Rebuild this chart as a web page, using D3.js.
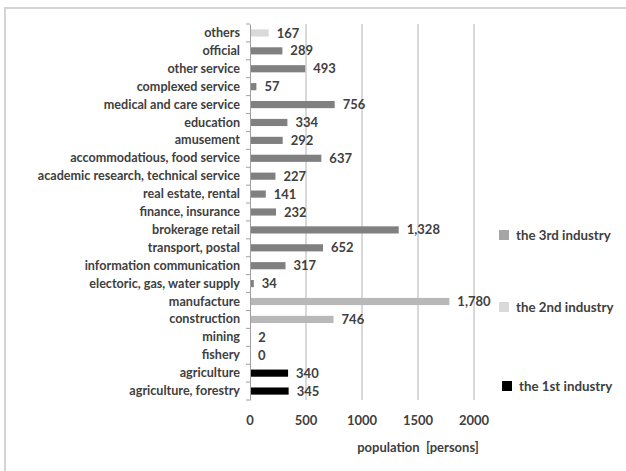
<!DOCTYPE html>
<html><head><meta charset="utf-8">
<script src="https://cdn.jsdelivr.net/npm/d3@7"></script>
<style>body{margin:0;background:#fff}svg{display:block}</style>
</head><body>
<script>
const categories = ["others","official","other service","complexed service","medical and care service","education","amusement","accommodatious, food service","academic research, technical service","real estate, rental","finance, insurance","brokerage retail","transport, postal","information communication","electoric, gas, water supply","manufacture","construction","mining","fishery","agriculture","agriculture, forestry"];
const values = [167,289,493,57,756,334,292,637,227,141,232,1328,652,317,34,1780,746,2,0,340,345];
const labels = ["167","289","493","57","756","334","292","637","227","141","232","1,328","652","317","34","1,780","746","2","0","340","345"];
const groups = ["other","3rd","3rd","3rd","3rd","3rd","3rd","3rd","3rd","3rd","3rd","3rd","3rd","3rd","3rd","2nd","2nd","2nd","1st","1st","1st"];
const xTicks = [0,500,1000,1500,2000];
const legendItems = ["the 3rd industry","the 2nd industry","the 1st industry"];
const axisTitle = "population  [persons]";

const W=626,H=471;
const svg=d3.select("body").append("svg").attr("width",W).attr("height",H);
svg.append("rect").attr("x",5).attr("y",8).attr("width",640).attr("height",480).attr("fill","none").attr("stroke","#d4d4d4").attr("stroke-width",2);

const colors={"3rd":"#808080","2nd":"#b8b8b8","1st":"#000000","other":"#d9d9d9"};
const legendColors={"the 3rd industry":"#a6a6a6","the 2nd industry":"#d9d9d9","the 1st industry":"#000000"};
const font="'Lato',sans-serif";

const x=d3.scaleLinear().domain([0,2000]).range([250,474]);
const y=d3.scaleBand().domain(categories).range([24,400]).paddingInner(0.6).paddingOuter(0.3);

// grid
svg.append("g").selectAll("line").data(xTicks.slice(1)).join("line")
 .attr("x1",d=>x(d)).attr("x2",d=>x(d)).attr("y1",24).attr("y2",400)
 .attr("stroke","#c0c0c0").attr("stroke-width",1.2);

// bars
const data=categories.map((c,i)=>({c,v:values[i],l:labels[i],g:groups[i]}));
svg.append("g").selectAll("rect").data(data).join("rect")
 .attr("x",x(0)).attr("y",d=>y(d.c)).attr("width",d=>x(d.v)-x(0)).attr("height",y.bandwidth())
 .attr("fill",d=>colors[d.g]);

// value labels
svg.append("g").selectAll("text").data(data).join("text")
 .attr("x",d=>x(d.v)+8).attr("y",d=>y(d.c)+y.bandwidth()/2).attr("dy","0.35em")
 .attr("font-family",font).attr("font-size",13).attr("font-weight","bold").attr("fill","#404040")
 .text(d=>d.l);

// y axis
const ya=svg.append("g").attr("transform",`translate(${x(0)},0)`).call(d3.axisLeft(y).tickSize(0).tickPadding(10));
ya.select(".domain").attr("stroke","#a0a0a0");
ya.selectAll("text").attr("font-family",font).attr("font-size",12.6).attr("font-weight","bold").attr("fill","#404040");
// band boundary ticks
const y0=y.range()[0]+y.step()*y.paddingOuter()-y.step()*y.paddingInner()/2;
svg.append("g").selectAll("line").data(d3.range(categories.length+1)).join("line")
 .attr("x1",x(0)-4).attr("x2",x(0)).attr("y1",i=>y0+i*y.step()).attr("y2",i=>y0+i*y.step())
 .attr("stroke","#a0a0a0");

// x axis labels
svg.append("g").selectAll("text").data(xTicks).join("text")
 .attr("x",d=>x(d)).attr("y",420).attr("dy","0.35em").attr("text-anchor","middle")
 .attr("font-family",font).attr("font-size",13).attr("font-weight","bold").attr("fill","#404040").text(d=>d);
svg.append("text").attr("x",418).attr("y",447).attr("dy","0.35em").attr("text-anchor","middle")
 .attr("font-family",font).attr("font-size",13).attr("font-weight","bold").attr("fill","#404040")
 .style("white-space","pre").attr("xml:space","preserve").text(axisTitle);

// legend
const legY=[235,307,386], legX=[499,499,502];
const lg=svg.append("g").selectAll("g").data(legendItems).join("g")
 .attr("transform",(d,i)=>`translate(${legX[i]},${legY[i]})`);
lg.append("rect").attr("x",0).attr("y",-5).attr("width",10).attr("height",10).attr("fill",d=>legendColors[d]);
lg.append("text").attr("x",17).attr("dy","0.35em").attr("font-family",font).attr("font-size",13.3).attr("font-weight","bold").attr("fill","#404040").text(d=>d);
</script>
</body></html>
